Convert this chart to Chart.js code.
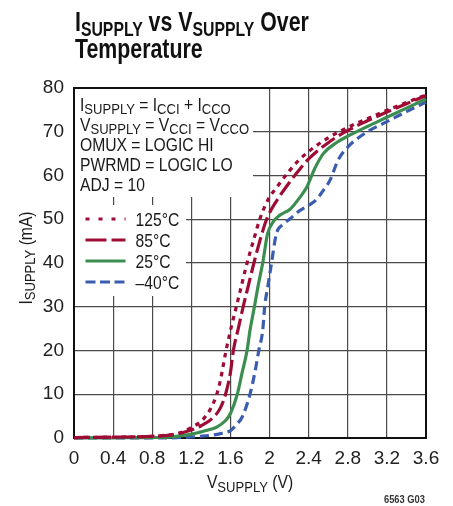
<!DOCTYPE html>
<html>
<head>
<meta charset="utf-8">
<script src="https://cdn.jsdelivr.net/npm/chart.js@4.4.1/dist/chart.umd.min.js"></script>
<style>
  html, body { margin: 0; padding: 0; background: #fff; }
  canvas { display: block; }
</style>
</head>
<body>
<canvas id="supply-chart" width="453" height="506"></canvas>
<script>
// --- data: supply current (mA) vs supply voltage (V) per temperature ---
const v125 = [0, 0.4, 0.8, 1.0, 1.1, 1.2, 1.3, 1.34, 1.4, 1.46, 1.5, 1.555, 1.61, 1.66, 1.72, 1.77, 1.84, 1.9, 1.98, 2.08, 2.2, 2.3, 2.4, 2.6, 2.8, 3.0, 3.2, 3.4, 3.6];
const i125 = [0.1, 0.2, 0.4, 0.8, 1.3, 2.4, 3.8, 4.8, 6.8, 10, 13.5, 20, 25.5, 30, 35.5, 40, 45.5, 50, 54.3, 57.5, 61, 63.5, 65.5, 68.6, 71, 73, 74.9, 76.7, 78.4];

const v85 = [0, 0.4, 0.8, 1.0, 1.15, 1.3, 1.43, 1.5, 1.55, 1.6, 1.63, 1.68, 1.73, 1.785, 1.84, 1.9, 1.97, 2.08, 2.18, 2.3, 2.4, 2.6, 2.8, 3.0, 3.2, 3.4, 3.6];
const i85 = [0.1, 0.2, 0.35, 0.7, 1.5, 2.8, 4.8, 7, 10, 15, 20, 25, 30, 35, 40, 45, 50, 54.5, 57.7, 61.2, 63.8, 67.5, 70.3, 72.5, 74.5, 76.4, 78.3];

const v25 = [0, 0.4, 0.8, 1.0, 1.23, 1.35, 1.46, 1.55, 1.6, 1.67, 1.72, 1.77, 1.8, 1.845, 1.885, 1.93, 1.98, 2.04, 2.11, 2.21, 2.31, 2.38, 2.46, 2.55, 2.69, 2.8, 3.0, 3.2, 3.4, 3.6];
const i25 = [0, 0.05, 0.1, 0.25, 1, 1.7, 2.5, 4, 5.6, 10, 15, 20, 24.6, 30, 35, 40, 46.7, 49.5, 51, 52.3, 55, 57.3, 61.5, 65, 67.6, 69, 71.2, 73.3, 75.4, 77.5];

const vm40 = [0, 0.8, 1.0, 1.3, 1.5, 1.6, 1.66, 1.72, 1.8, 1.85, 1.89, 1.93, 1.95, 1.985, 2.02, 2.07, 2.14, 2.22, 2.31, 2.4, 2.48, 2.53, 2.62, 2.7, 2.8, 3.0, 3.2, 3.4, 3.6];
const im40 = [0, 0.02, 0.05, 0.4, 1, 1.7, 3, 4.8, 10, 15, 20, 24.6, 30, 35, 40, 46.7, 48.8, 50.3, 52, 53.2, 54.5, 56, 59, 63.5, 66.5, 70, 72.3, 74.6, 76.8];

const seriesLabels = ['125°C', '85°C', '25°C', '–40°C'];
const xTickValues = [0, 0.4, 0.8, 1.2, 1.6, 2, 2.4, 2.8, 3.2, 3.6];
const yTickValues = [0, 10, 20, 30, 40, 50, 60, 70, 80];

// --- styles ---
const RED = '#9e0b34';
const GREEN = '#3b8e4f';
const BLUE = '#3a5db0';
const FONT = '"Liberation Sans", Arial, sans-serif';
const NARROW = '"Liberation Sans Narrow", "Liberation Sans", Arial, sans-serif';

const toPoints = (xs, ys) => xs.map((x, i) => ({ x: x, y: ys[i] }));

// draws text made of [text, isSubscript] runs, squeezed horizontally
function drawRich(ctx, parts, x, y, o) {
    ctx.save();
    ctx.translate(x, y);
    if (o.rotate) ctx.rotate(o.rotate);
    ctx.scale(o.squeeze, 1);
    ctx.fillStyle = o.color || '#1a1a1a';
    ctx.textBaseline = 'alphabetic';
    ctx.textAlign = 'left';
    const fontFor = sub => `${o.weight || 'normal'} ${sub ? o.subSize : o.size}px ${FONT}`;
    let total = 0;
    parts.forEach(([t, sub]) => { ctx.font = fontFor(sub); total += ctx.measureText(t).width; });
    let cx = o.align === 'center' ? -total / 2 : (o.align === 'right' ? -total : 0);
    parts.forEach(([t, sub]) => {
        ctx.font = fontFor(sub);
        ctx.fillText(t, cx, sub ? o.subDrop : 0);
        cx += ctx.measureText(t).width;
    });
    ctx.restore();
}

// legend samples (pattern, colour) matching each dataset
const legendStyles = [
    { color: RED, dash: [4, 9] },
    { color: RED, dash: [21, 5] },
    { color: GREEN, dash: [] },
    { color: BLUE, dash: [10, 4.5] }
];

const notesPlugin = {
    id: 'notes',
    beforeDatasetsDraw(chart) {
        const ctx = chart.ctx;
        const a = chart.chartArea;

        // white backing behind the condition text and the legend
        ctx.save();
        ctx.fillStyle = '#fff';
        ctx.fillRect(a.left + 1, a.top + 1, 252 - a.left, 196 - a.top);
        ctx.fillRect(a.left + 1, 205, 185 - a.left, 91);
        ctx.restore();

        // plot frame
        ctx.save();
        ctx.strokeStyle = '#111';
        ctx.lineWidth = 2;
        ctx.strokeRect(a.left, a.top, a.right - a.left, a.bottom - a.top);
        ctx.restore();

        const txt = { size: 18, subSize: 15, subDrop: 3.5, squeeze: 0.87 };
        drawRich(ctx, [['I', 0], ['SUPPLY', 1], [' = I', 0], ['CCI', 1], [' + I', 0], ['CCO', 1]], 80, 110.5, txt);
        drawRich(ctx, [['V', 0], ['SUPPLY', 1], [' = V', 0], ['CCI', 1], [' = V', 0], ['CCO', 1]], 80, 130.5, txt);
        drawRich(ctx, [['OMUX = LOGIC HI', 0]], 80, 150.5, txt);
        drawRich(ctx, [['PWRMD = LOGIC LO', 0]], 80, 170.5, txt);
        drawRich(ctx, [['ADJ = 10', 0]], 80, 190.5, txt);

        // legend
        seriesLabels.forEach((label, i) => {
            const y = 219 + i * 21;
            const s = legendStyles[i];
            ctx.save();
            ctx.strokeStyle = s.color;
            ctx.lineWidth = 3.2;
            ctx.setLineDash(s.dash);
            ctx.beginPath();
            ctx.moveTo(85.5, y);
            ctx.lineTo(125.5, y);
            ctx.stroke();
            ctx.restore();
            drawRich(ctx, [[label, 0]], 135.5, y + 7, txt);
        });
    },
    afterDraw(chart) {
        const ctx = chart.ctx;
        // title
        const title = { size: 27, subSize: 20, subDrop: 5, squeeze: 0.79, weight: 'bold', color: '#111' };
        drawRich(ctx, [['I', 0], ['SUPPLY', 1], [' vs V', 0], ['SUPPLY', 1], [' Over', 0]], 75, 31, title);
        drawRich(ctx, [['Temperature', 0]], 75, 58, title);

        // axis titles
        const ax = { size: 18, subSize: 15, subDrop: 3.5, squeeze: 0.87, align: 'center' };
        drawRich(ctx, [['V', 0], ['SUPPLY', 1], [' (V)', 0]], 250, 488, ax);
        drawRich(ctx, [['I', 0], ['SUPPLY', 1], [' (mA)', 0]], 31.5, 258, Object.assign({}, ax, { rotate: -Math.PI / 2 }));

        // figure code
        drawRich(ctx, [['6563 G03', 0]], 425, 503, { size: 11, subSize: 11, subDrop: 0, squeeze: 0.85, align: 'right', weight: 'bold', color: '#333' });
    }
};

const ctx = document.getElementById('supply-chart').getContext('2d');
new Chart(ctx, {
    type: 'line',
    data: {
        datasets: [
            { label: seriesLabels[0], data: toPoints(v125, i125), borderColor: RED, borderWidth: 3.2, borderDash: [4.5, 5] },
            { label: seriesLabels[1], data: toPoints(v85, i85), borderColor: RED, borderWidth: 3.2, borderDash: [16, 5] },
            { label: seriesLabels[2], data: toPoints(v25, i25), borderColor: GREEN, borderWidth: 3.2, borderDash: [] },
            { label: seriesLabels[3], data: toPoints(vm40, im40), borderColor: BLUE, borderWidth: 3.2, borderDash: [9, 5] }
        ]
    },
    options: {
        responsive: false,
        animation: false,
        devicePixelRatio: 1,
        layout: { padding: { top: 88, right: 27, left: 0, bottom: 0 } },
        elements: {
            point: { radius: 0, hitRadius: 0 },
            line: { cubicInterpolationMode: 'monotone', borderCapStyle: 'butt', fill: false }
        },
        datasets: { line: { clip: 6 } },
        scales: {
            x: {
                type: 'linear',
                min: 0,
                max: 3.6,
                afterBuildTicks: s => { s.ticks = xTickValues.map(v => ({ value: v })); },
                afterFit: s => { s.height = 68; },
                grid: { color: '#4a4a4a', lineWidth: 1.2, drawTicks: false },
                border: { display: false },
                ticks: {
                    padding: 9,
                    color: '#222',
                    font: { family: NARROW, size: 19 },
                    maxRotation: 0,
                    autoSkip: false,
                    callback: v => String(Number(v.toFixed(1)))
                }
            },
            y: {
                min: 0,
                max: 80,
                afterBuildTicks: s => { s.ticks = yTickValues.map(v => ({ value: v })); },
                afterFit: s => { s.width = 74; },
                grid: { color: '#4a4a4a', lineWidth: 1.2, drawTicks: false },
                border: { display: false },
                ticks: {
                    padding: 10,
                    color: '#222',
                    font: { family: NARROW, size: 19 },
                    autoSkip: false
                }
            }
        },
        plugins: {
            legend: { display: false },
            title: { display: false },
            tooltip: { enabled: false }
        }
    },
    plugins: [notesPlugin]
});
</script>
</body>
</html>
